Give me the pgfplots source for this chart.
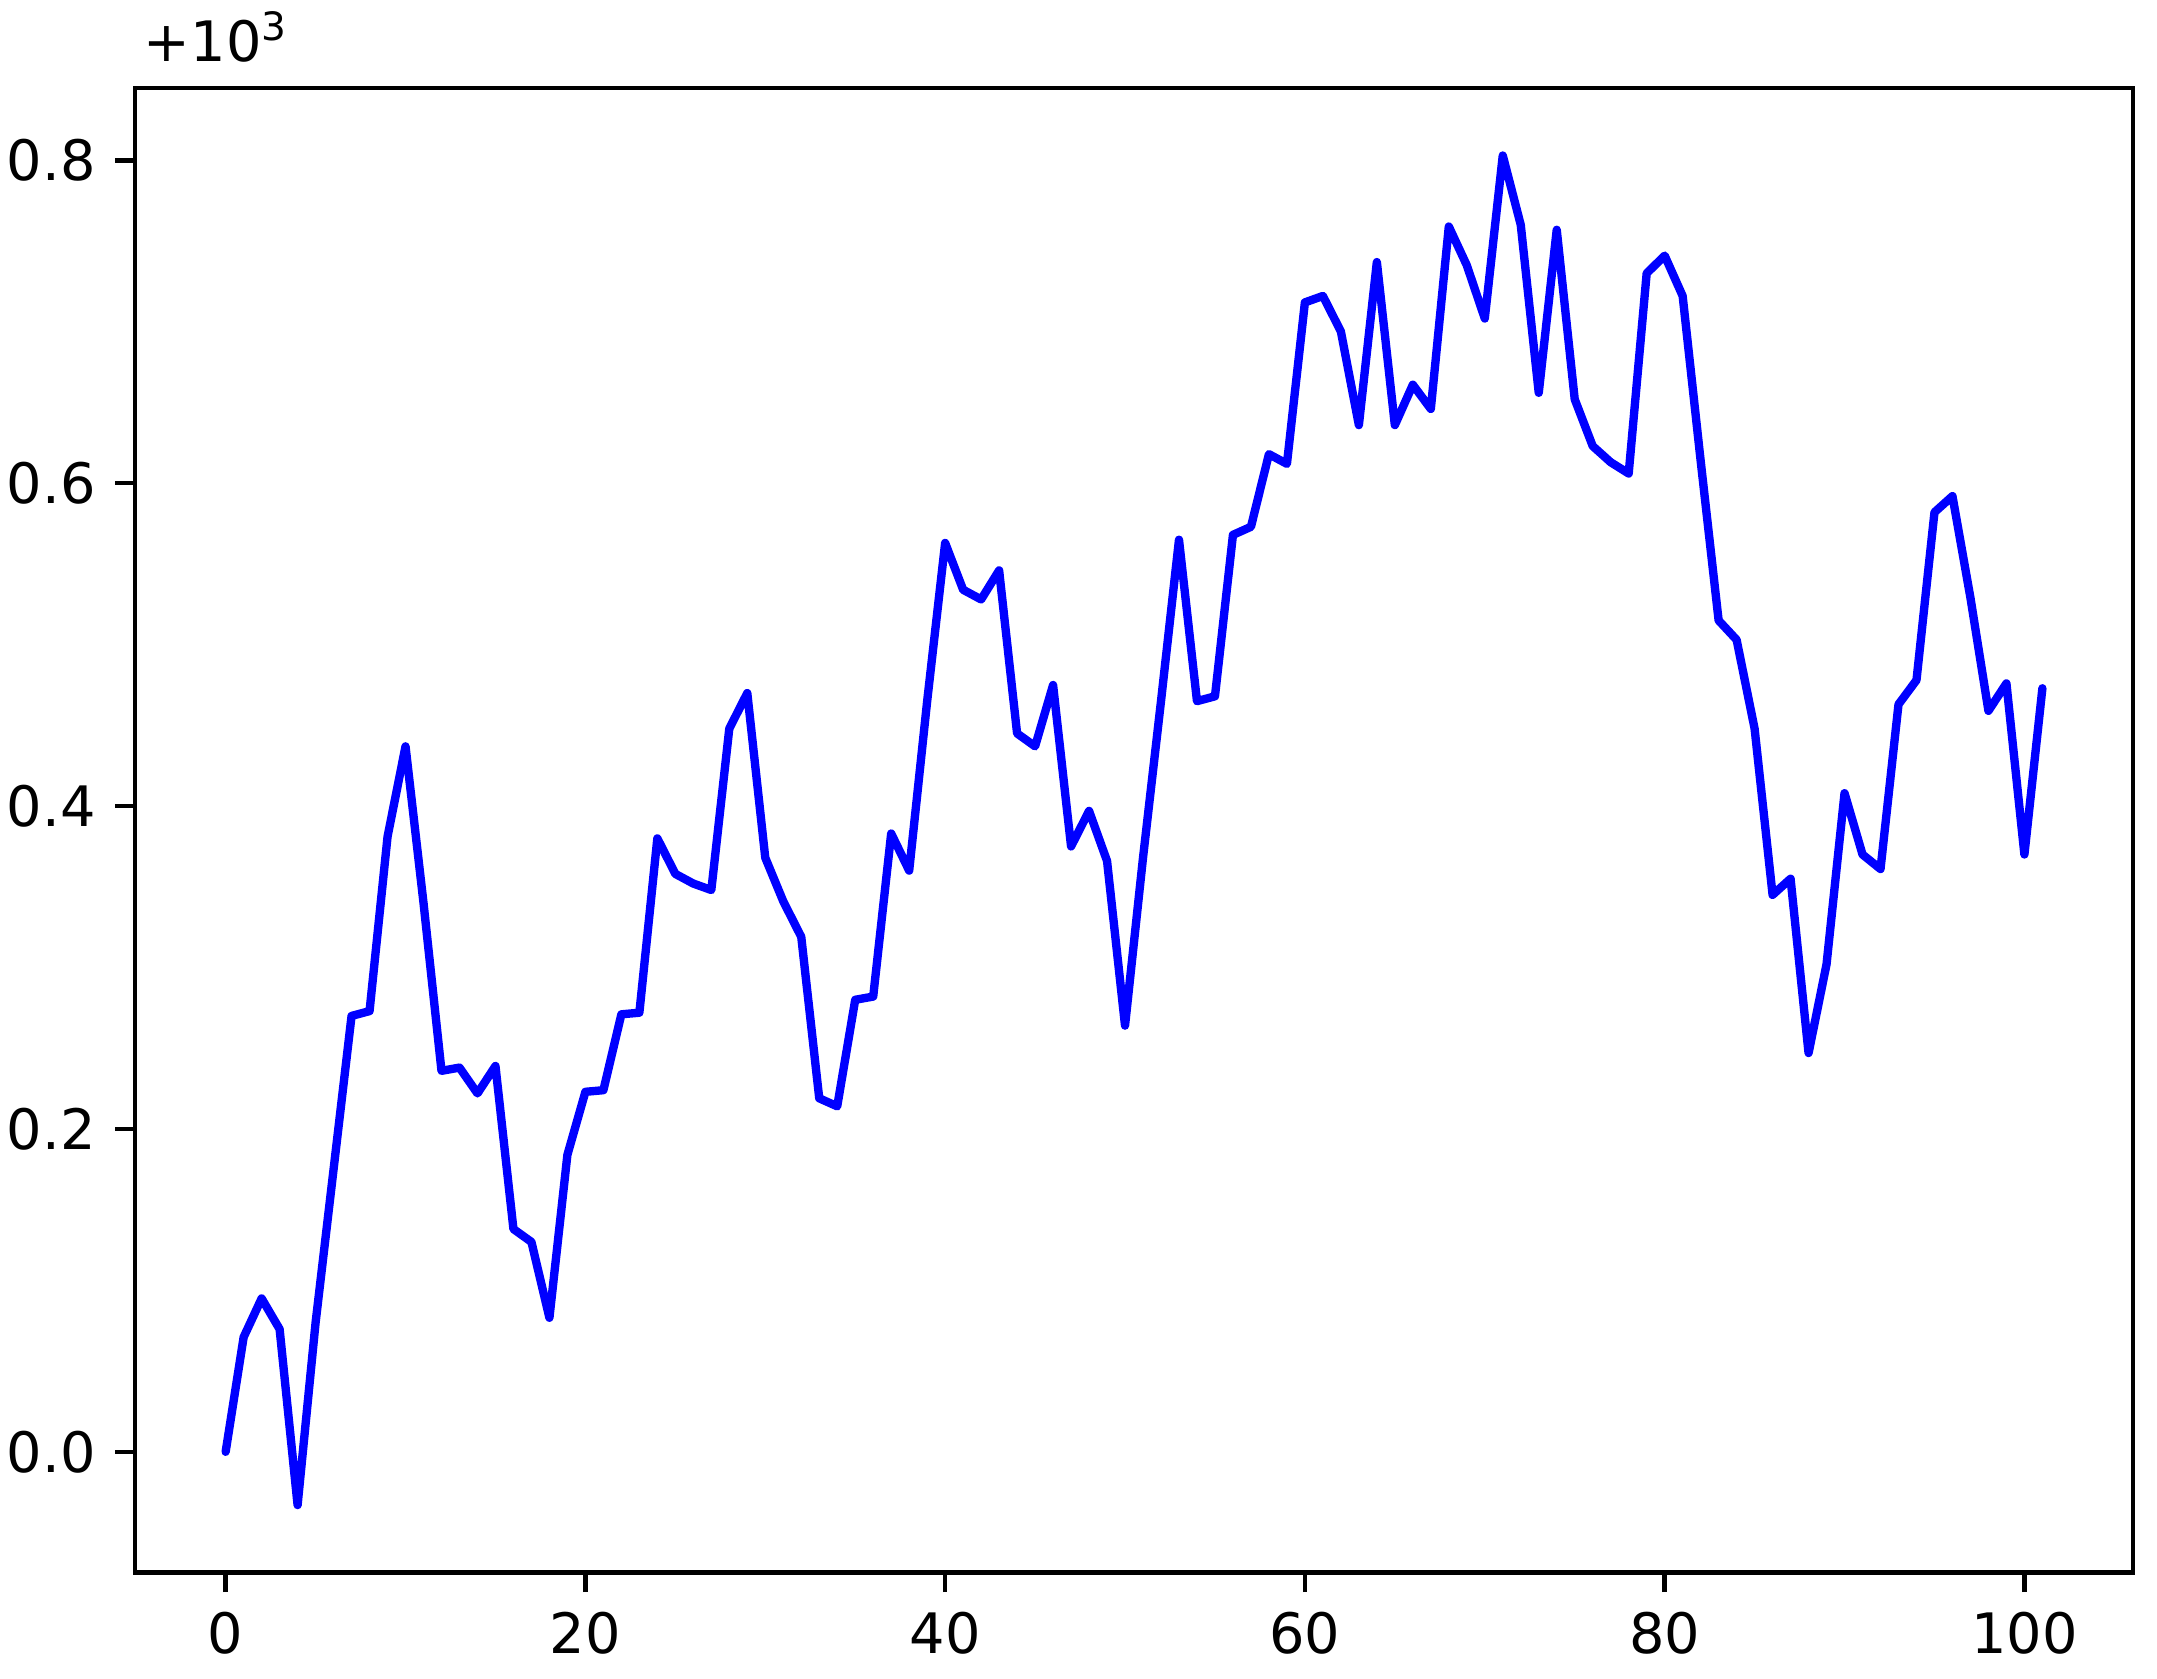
\documentclass[border=0pt]{standalone}
\usepackage{fontspec}
\setmainfont{DejaVu Sans}
\usepackage{pgfplots}
\pgfplotsset{compat=1.18}

% random-walk series, shown with matplotlib's +10^3 offset
\pgfplotstableread{
x y
0 0.000
1 0.071
2 0.095
3 0.076
4 -0.033
5 0.080
6 0.175
7 0.270
8 0.273
9 0.381
10 0.437
11 0.340
12 0.236
13 0.238
14 0.222
15 0.239
16 0.138
17 0.130
18 0.083
19 0.184
20 0.223
21 0.224
22 0.271
23 0.272
24 0.380
25 0.358
26 0.352
27 0.348
28 0.448
29 0.470
30 0.368
31 0.341
32 0.319
33 0.219
34 0.214
35 0.280
36 0.282
37 0.383
38 0.360
39 0.465
40 0.563
41 0.534
42 0.528
43 0.546
44 0.445
45 0.437
46 0.475
47 0.375
48 0.397
49 0.366
50 0.264
51 0.368
52 0.465
53 0.565
54 0.465
55 0.468
56 0.568
57 0.573
58 0.618
59 0.612
60 0.712
61 0.716
62 0.694
63 0.636
64 0.737
65 0.636
66 0.661
67 0.646
68 0.759
69 0.735
70 0.702
71 0.803
72 0.760
73 0.656
74 0.757
75 0.652
76 0.623
77 0.613
78 0.606
79 0.730
80 0.741
81 0.716
82 0.614
83 0.515
84 0.503
85 0.448
86 0.345
87 0.355
88 0.247
89 0.302
90 0.408
91 0.370
92 0.361
93 0.463
94 0.478
95 0.582
96 0.592
97 0.529
98 0.459
99 0.476
100 0.370
101 0.473
}\walk

\begin{document}
\begin{tikzpicture}
\begin{axis}[
    name=ax,
    width=12.6cm, height=9.36cm,
    scale only axis,
    xmin=-5.05, xmax=106.05,
    ymin=-0.0748, ymax=0.8448,
    xtick={0,20,40,60,80,100},
    ytick={0,0.2,0.4,0.6,0.8},
    yticklabel style={/pgf/number format/.cd, fixed, fixed zerofill, precision=1},
    /pgf/number format/assume math mode=true,
    tick label style={font=\fontsize{10}{12}\selectfont},
    tick pos=left,
    tick align=outside,
    major tick length=3.5pt,
    every tick/.style={black, line width=0.8pt},
    axis line style={line width=0.8pt},
]
\addplot[blue, line width=1.5pt, line join=round, line cap=round, mark=none] table[x=x, y=y] {\walk};
\end{axis}
\node[anchor=base west, inner sep=0pt, font=\fontsize{10}{12}\selectfont]
    at (ax.north west) [xshift=0.05cm, yshift=0.17cm] {+10\textsuperscript{3}};
% page margins as in the reference
\pgfresetboundingbox
\path ([xshift=-0.85cm, yshift=-0.668cm]ax.south west) rectangle ([xshift=0.15cm, yshift=0.555cm]ax.north east);
\end{tikzpicture}
\end{document}
